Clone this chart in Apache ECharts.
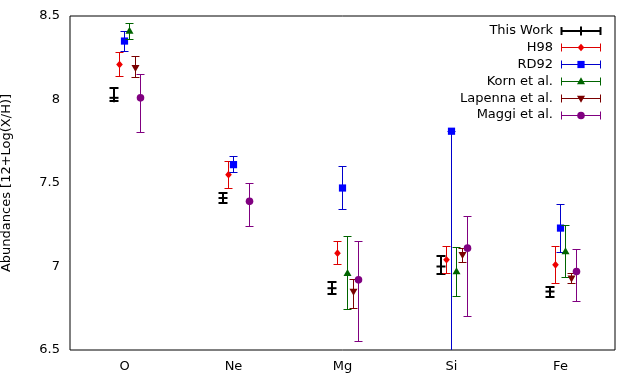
<!DOCTYPE html>
<html><head><meta charset="utf-8">
<script src="https://cdn.jsdelivr.net/npm/echarts@6/dist/echarts.min.js"></script>
<style>html,body{margin:0;padding:0;background:#fff}#c{width:624px;height:378px}</style>
</head><body><div id="c"></div>
<script>
const categories = ['O', 'Ne', 'Mg', 'Si', 'Fe'];
const yTicks = [6.5, 7, 7.5, 8, 8.5];

const thisWorkVal  = [8.01, 7.41, 6.87, 7.00, 6.85];
const thisWorkLow  = [7.99, 7.38, 6.835, 6.955, 6.82];
const thisWorkHigh = [8.07, 7.44, 6.91, 7.06, 6.88];

const h98Val  = [8.21, 7.55, 7.08, 7.04, 7.01];
const h98Low  = [8.14, 7.47, 7.01, 6.96, 6.90];
const h98High = [8.28, 7.63, 7.15, 7.12, 7.12];

const rd92Val  = [8.35, 7.61, 7.47, 7.81, 7.23];
const rd92Low  = [8.29, 7.56, 7.34, 6.00, 7.085];
const rd92High = [8.41, 7.66, 7.60, 7.81, 7.37];

const kornVal  = [8.41, null, 6.96, 6.97, 7.09];
const kornLow  = [8.36, null, 6.74, 6.82, 6.935];
const kornHigh = [8.455, null, 7.18, 7.115, 7.245];

const lapennaVal  = [8.19, null, 6.85, 7.07, 6.93];
const lapennaLow  = [8.13, null, 6.75, 7.025, 6.90];
const lapennaHigh = [8.255, null, 6.92, 7.11, 6.96];

const maggiVal  = [8.01, 7.39, 6.92, 7.11, 6.97];
const maggiLow  = [7.80, 7.24, 6.55, 6.70, 6.79];
const maggiHigh = [8.15, 7.50, 7.15, 7.30, 7.10];

const FONT = 'DejaVu Sans';

function snap(v, lw) { return lw % 2 === 1 ? Math.round(v - 0.5) + 0.5 : Math.round(v); }

function markerShape(kind, x, y, color) {
  if (kind === 'plus') {
    return [
      {type:'line', shape:{x1:x-4.5,y1:y,x2:x+4.5,y2:y}, style:{stroke:color,lineWidth:2}},
      {type:'line', shape:{x1:x,y1:y-4.5,x2:x,y2:y+4.5}, style:{stroke:color,lineWidth:2}}
    ];
  }
  if (kind === 'diamond') {
    return [{type:'polygon', shape:{points:[[x,y-3.8],[x+3.3,y],[x,y+3.8],[x-3.3,y]]}, style:{fill:color}}];
  }
  if (kind === 'square') {
    return [{type:'rect', shape:{x:x-3.6,y:y-3.6,width:7.2,height:7.2}, style:{fill:color}}];
  }
  if (kind === 'triUp') {
    return [{type:'polygon', shape:{points:[[x,y-4.2],[x+4,y+2.8],[x-4,y+2.8]]}, style:{fill:color}}];
  }
  if (kind === 'triDown') {
    return [{type:'polygon', shape:{points:[[x,y+4.2],[x+4,y-2.8],[x-4,y-2.8]]}, style:{fill:color}}];
  }
  return [{type:'circle', shape:{cx:x,cy:y,r:3.8}, style:{fill:color}}];
}

function errShapes(x, yv, ylo, yhi, st) {
  const w = st.cap;
  const lw = st.lw;
  const xs = snap(x, lw), yl = snap(ylo, lw), yh = snap(yhi, lw);
  const out = [
    {type:'line', shape:{x1:xs,y1:yl,x2:xs,y2:yh}, style:{stroke:st.line,lineWidth:lw}},
    {type:'line', shape:{x1:xs-w,y1:yl,x2:xs+w,y2:yl}, style:{stroke:st.line,lineWidth:lw}},
    {type:'line', shape:{x1:xs-w,y1:yh,x2:xs+w,y2:yh}, style:{stroke:st.line,lineWidth:lw}}
  ];
  return out.concat(markerShape(st.marker, xs, yv, st.fill));
}

const seriesDefs = [
  {name:'This Work', val:thisWorkVal, low:thisWorkLow, high:thisWorkHigh, st:{offset:-0.1, line:'#000000', fill:'#000000', lw:2, cap:4.5, marker:'plus'}},
  {name:'H98', val:h98Val, low:h98Low, high:h98High, st:{offset:-0.05, line:'#dd0000', fill:'#ee0000', lw:1, cap:4, marker:'diamond'}},
  {name:'RD92', val:rd92Val, low:rd92Low, high:rd92High, st:{offset:0, line:'#0000cc', fill:'#0000ff', lw:1, cap:4, marker:'square'}},
  {name:'Korn et al.', val:kornVal, low:kornLow, high:kornHigh, st:{offset:0.05, line:'#006400', fill:'#006400', lw:1, cap:4, marker:'triUp'}},
  {name:'Lapenna et al.', val:lapennaVal, low:lapennaLow, high:lapennaHigh, st:{offset:0.1, line:'#7a0000', fill:'#7a0000', lw:1, cap:4, marker:'triDown'}},
  {name:'Maggi et al.', val:maggiVal, low:maggiLow, high:maggiHigh, st:{offset:0.15, line:'#800080', fill:'#800080', lw:1, cap:4, marker:'circle'}}
];

const series = seriesDefs.map(d => {
  const data = [];
  d.val.forEach((v, i) => { if (v != null) data.push([i, v, d.low[i], d.high[i]]); });
  return {
    type:'custom', name:d.name, clip:true, data,
    encode:{x:0, y:[1,2,3]},
    renderItem:(params, api) => {
      const i = api.value(0);
      const bw = api.size([1, 0])[0];
      const p = api.coord([i, api.value(1)]);
      const lo = api.coord([i, api.value(2)]);
      const hi = api.coord([i, api.value(3)]);
      const x = p[0] + d.st.offset * bw;
      return {type:'group', children: errShapes(x, p[1], lo[1], hi[1], d.st)};
    }
  };
});

// legend drawn as graphics
const legendGraphics = [];
const rowY0 = 31, rowDY = 16.8, textRight = 553, sx1 = 561.5, sx2 = 600.5;
seriesDefs.forEach((d, k) => {
  const y = rowY0 + k * rowDY;
  const st = d.st;
  const ys = snap(y, st.lw);
  legendGraphics.push({type:'text', x:textRight, y:y, style:{text:d.name, fill:'#000', font:'13px ' + FONT, align:'right', verticalAlign:'middle'}});
  const kids = [
    {type:'line', shape:{x1:sx1,y1:ys,x2:sx2,y2:ys}, style:{stroke:st.line,lineWidth:st.lw}},
    {type:'line', shape:{x1:sx1,y1:ys-4,x2:sx1,y2:ys+4}, style:{stroke:st.line,lineWidth:st.lw}},
    {type:'line', shape:{x1:sx2,y1:ys-4,x2:sx2,y2:ys+4}, style:{stroke:st.line,lineWidth:st.lw}}
  ].concat(markerShape(st.marker, (sx1+sx2)/2, ys, st.fill));
  legendGraphics.push({type:'group', children:kids});
});

const chart = echarts.init(document.getElementById('c'), null, {renderer:'canvas'});
const axisCommon = {
  axisLine:{show:false},
  splitLine:{show:false}
};
chart.setOption({
  animation:false,
  backgroundColor:'#fff',
  textStyle:{fontFamily:FONT},
  grid:{left:70, right:9, top:16, bottom:28, show:true, borderColor:'#000', borderWidth:1, backgroundColor:'transparent', containLabel:false, outerBoundsMode:'none'},
  xAxis:[
    Object.assign({type:'category', data:categories, position:'bottom', boundaryGap:true,
      axisTick:{inside:true, length:7, alignWithLabel:true, lineStyle:{color:'#000'}},
      axisLabel:{color:'#000', fontSize:13, fontFamily:FONT, margin:10}}, axisCommon),
    Object.assign({type:'category', data:categories, position:'top', boundaryGap:true,
      axisTick:{inside:true, length:7, alignWithLabel:true, lineStyle:{color:'#000'}},
      axisLabel:{show:false}}, axisCommon)
  ],
  yAxis:[
    Object.assign({type:'value', min:yTicks[0], max:yTicks[yTicks.length-1], interval:0.5, position:'left',
      name:'Abundances [12+Log(X/H)]', nameLocation:'middle', nameGap:57,
      nameTextStyle:{color:'#000', fontSize:13, fontFamily:FONT},
      axisTick:{inside:true, length:7, lineStyle:{color:'#000'}},
      axisLabel:{color:'#000', fontSize:13, fontFamily:FONT, margin:10}}, axisCommon),
    Object.assign({type:'value', min:yTicks[0], max:yTicks[yTicks.length-1], interval:0.5, position:'right',
      axisTick:{inside:true, length:7, lineStyle:{color:'#000'}},
      axisLabel:{show:false}}, axisCommon)
  ],
  series: series,
  graphic: legendGraphics
});
</script>
</body></html>
